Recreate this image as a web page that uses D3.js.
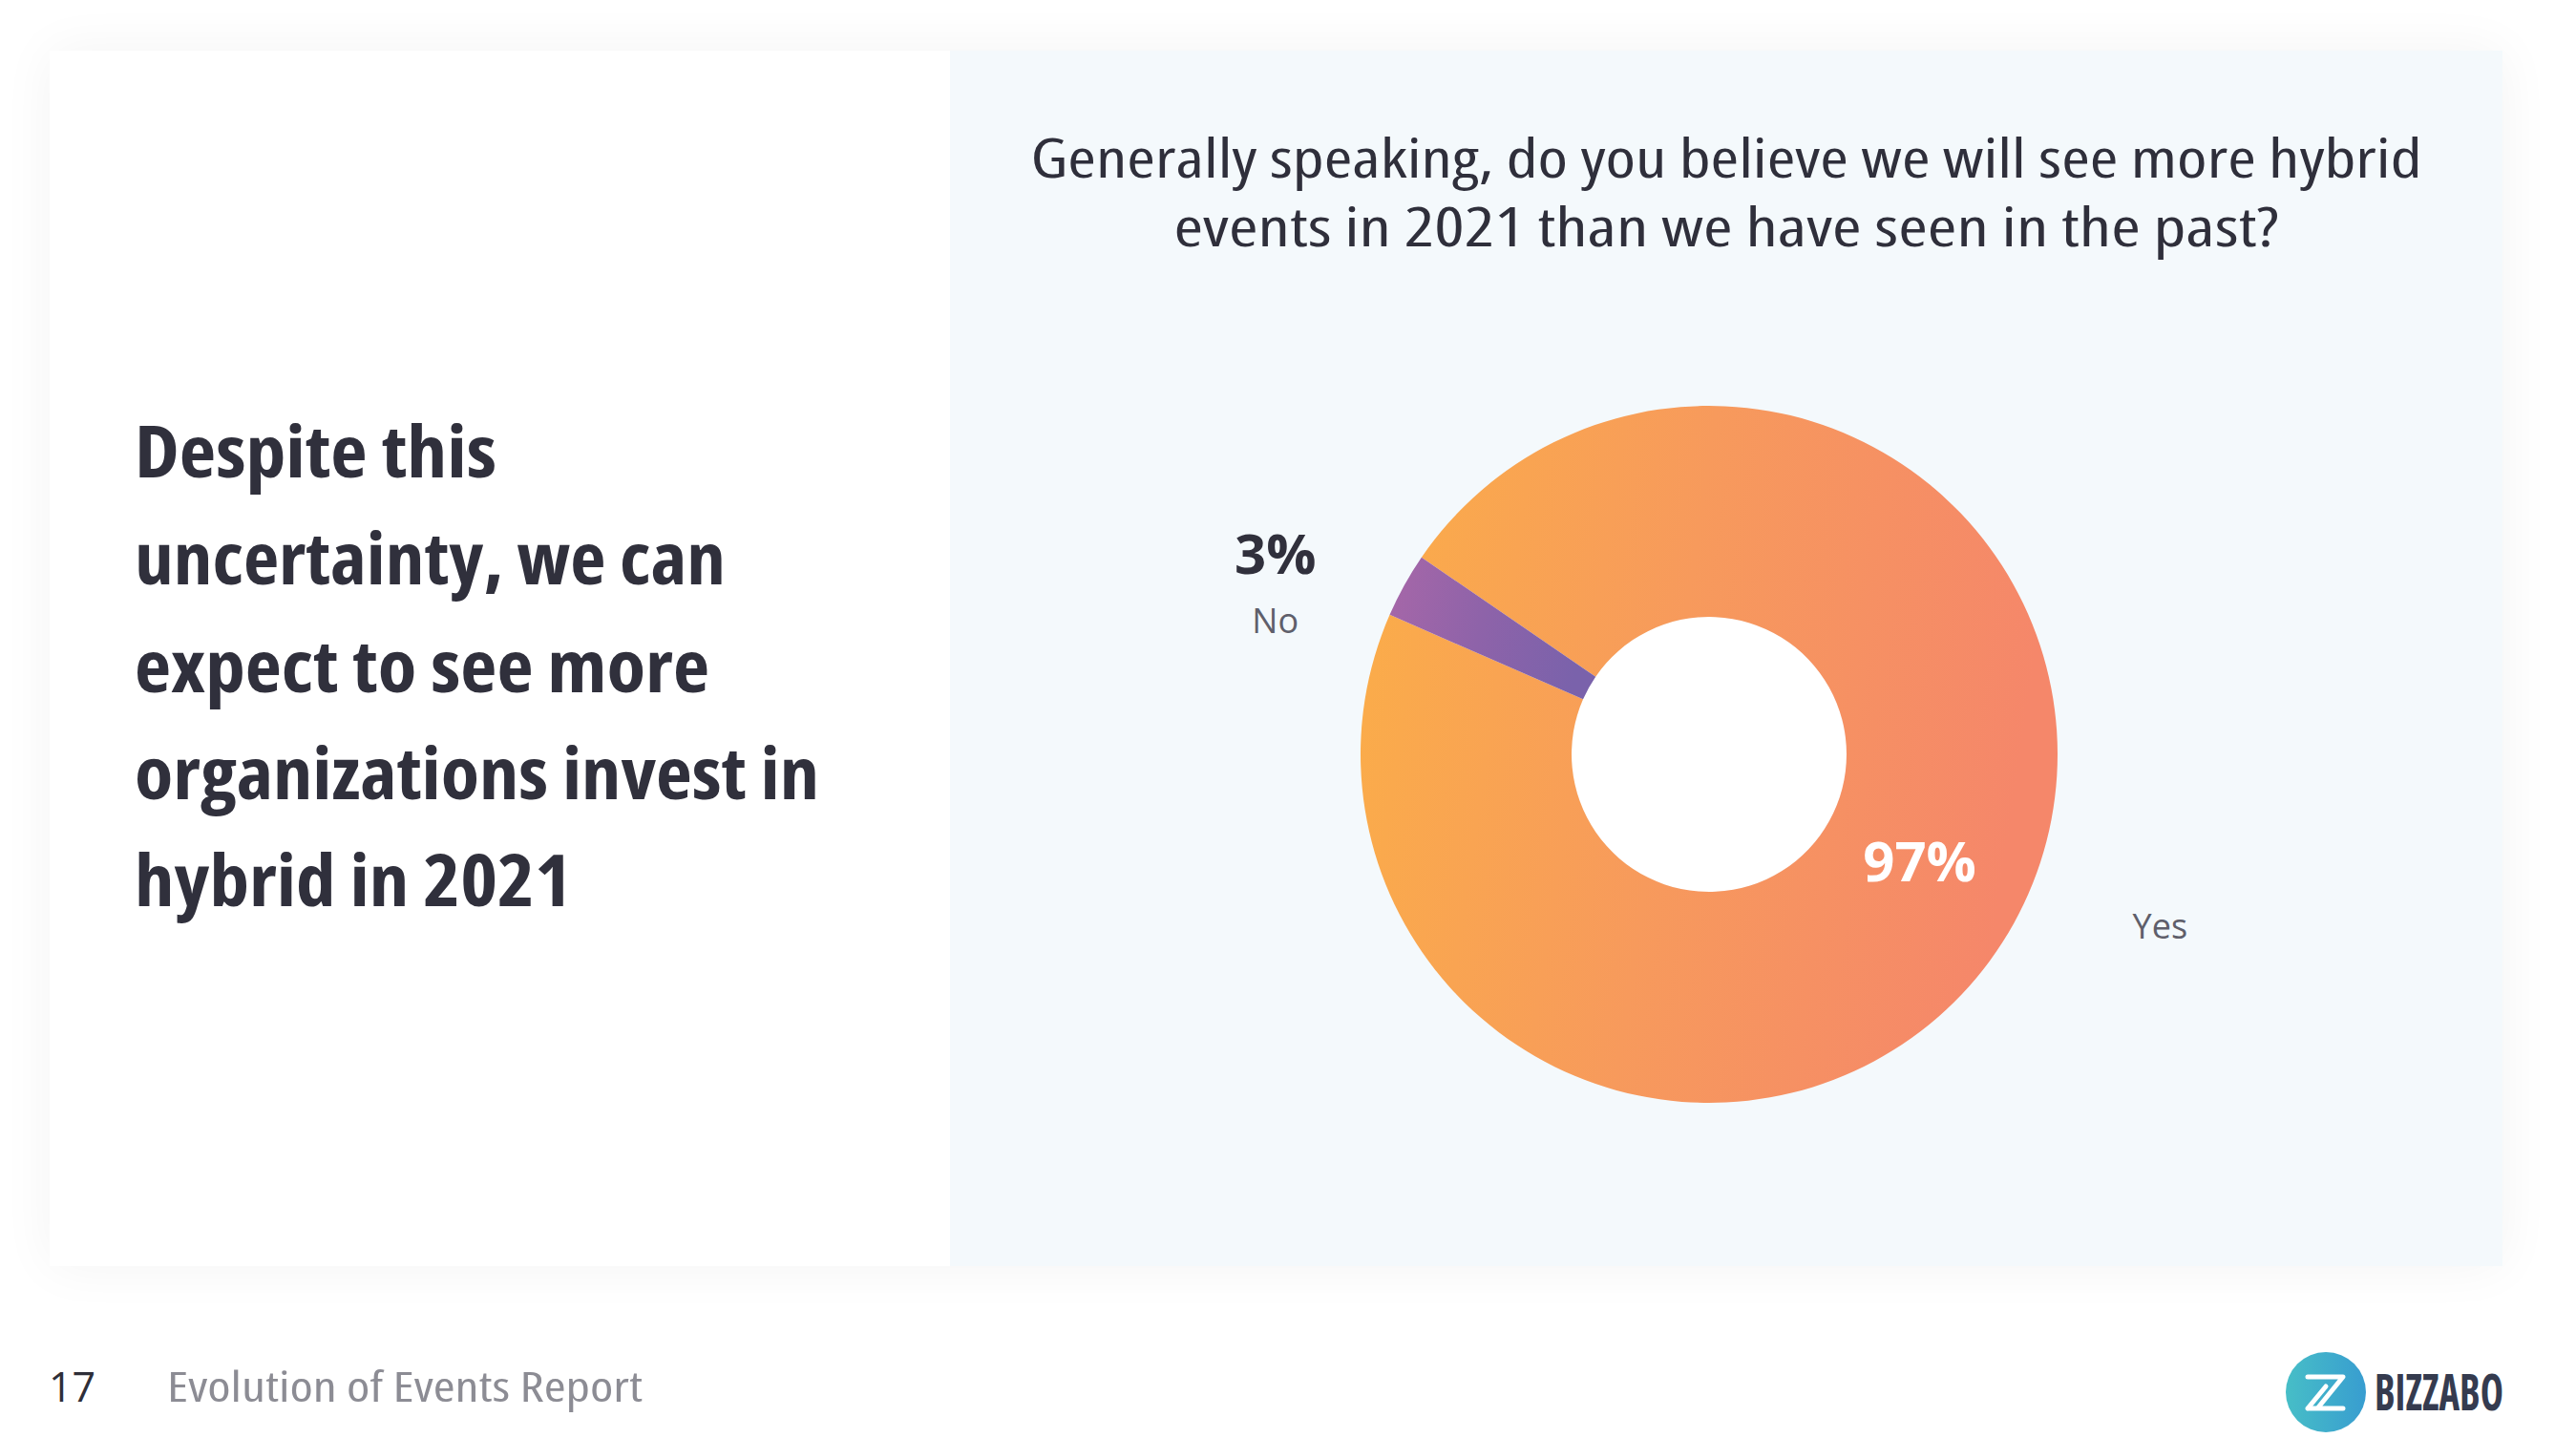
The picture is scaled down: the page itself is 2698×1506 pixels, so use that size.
<!DOCTYPE html>
<html><head><meta charset="utf-8">
<script src="https://cdn.jsdelivr.net/npm/d3@7"></script>
<style>html,body{margin:0;padding:0;background:#fff;}svg{display:block;}</style>
</head><body>
<script>
// ---- data ----
const categories = ["Yes", "No"];
const values = [97, 3];
const percentLabels = ["97%", "3%"];
const titleLines = ["Generally speaking, do you believe we will see more hybrid", "events in 2021 than we have seen in the past?"];
const headlineLines = ["Despite this", "uncertainty, we can", "expect to see more", "organizations invest in", "hybrid in 2021"];
const headlineWidths = [379, 619, 602, 717, 458];
const pageNumber = "17";
const footerText = "Evolution of Events Report";
const brandName = "BIZZABO";

// ---- layout ----
const W = 2698, H = 1506;
const FONT = "'Open Sans', 'Noto Sans', sans-serif";
const svg = d3.select("body").append("svg").attr("width", W).attr("height", H);
const defs = svg.append("defs");

const shadow = defs.append("filter").attr("id", "shadow").attr("x", "-10%").attr("y", "-10%").attr("width", "120%").attr("height", "120%");
shadow.append("feGaussianBlur").attr("in", "SourceAlpha").attr("stdDeviation", 28);
shadow.append("feComponentTransfer").append("feFuncA").attr("type", "linear").attr("slope", 0.05);
const fm = shadow.append("feMerge");
fm.append("feMergeNode");
fm.append("feMergeNode").attr("in", "SourceGraphic");

// card
svg.append("rect").attr("x", 52).attr("y", 53).attr("width", 2569).attr("height", 1273).attr("fill", "#fff").attr("filter", "url(#shadow)");
// right light panel
svg.append("rect").attr("x", 995).attr("y", 53).attr("width", 1626).attr("height", 1273).attr("fill", "#F4F9FC");

// headline
const hl = svg.append("g").attr("font-family", FONT).attr("font-weight", 700).attr("font-size", 76).attr("fill", "#30303C").style("font-stretch", "condensed");
headlineLines.forEach((t, i) => {
  hl.append("text").attr("x", 141).attr("y", 500 + i * 112.3).attr("textLength", headlineWidths[i]).attr("lengthAdjust", "spacingAndGlyphs").text(t);
});

// title
const tg = svg.append("g").attr("font-family", FONT).attr("font-size", 56).attr("fill", "#2F2F3B").attr("text-anchor", "middle").style("font-stretch", "condensed");
const titleWidths = [1457, 1157];
titleLines.forEach((t, i) => {
  tg.append("text").attr("x", 1808).attr("y", 186 + i * 72).attr("textLength", titleWidths[i]).attr("lengthAdjust", "spacingAndGlyphs").text(t);
});

// donut
const cx = 1790, cy = 790, rOuter = 365, rInner = 144;
const start = -55.6 * Math.PI / 180;
const pie = d3.pie().sort(null).value(d => d).startAngle(start).endAngle(start + 2 * Math.PI);
const arcs = pie(values);
const arc = d3.arc().innerRadius(rInner).outerRadius(rOuter);
const gradStops = [["#FBAE48", "#F79A5C", "#F5876A"], ["#A767A8", "#8E63A9", "#7A62AB"]];
gradStops.forEach((s, i) => {
  const g = defs.append("linearGradient").attr("id", "g" + i).attr("x1", 0).attr("y1", 0).attr("x2", 1).attr("y2", 0.15);
  s.forEach((c, j) => g.append("stop").attr("offset", j / (s.length - 1)).attr("stop-color", c));
});
const dg = svg.append("g").attr("transform", `translate(${cx},${cy})`);
dg.append("circle").attr("r", rInner).attr("fill", "#fff");
dg.selectAll("path").data(arcs).join("path").attr("d", arc).attr("fill", (d, i) => `url(#g${i})`);

// labels
const labelR = 490, shift = -10 * Math.PI / 180;
arcs.forEach((d, i) => {
  const mid = (d.startAngle + d.endAngle) / 2 + shift;
  const lx = labelR * Math.sin(mid) + 9, ly = -labelR * Math.cos(mid) + 20;
  dg.append("text").attr("x", lx).attr("y", ly + 13).attr("text-anchor", "middle")
    .attr("font-family", FONT).attr("font-size", 36).attr("fill", "#5F5F6B").text(categories[i]);
  const big = (d.endAngle - d.startAngle) > 0.5;
  if (big) {
    const c = arc.centroid(d);
    dg.append("text").attr("x", c[0] - 2).attr("y", c[1] + 10).attr("text-anchor", "middle")
      .attr("font-family", FONT).attr("font-weight", 700).attr("font-size", 58).attr("fill", "#fff").text(percentLabels[i]);
  } else {
    dg.append("text").attr("x", lx).attr("y", ly - 49).attr("text-anchor", "middle")
      .attr("font-family", FONT).attr("font-weight", 700).attr("font-size", 58).attr("fill", "#30303C").text(percentLabels[i]);
  }
});

// footer
svg.append("text").attr("x", 51).attr("y", 1468).attr("font-family", FONT).attr("font-size", 43).attr("fill", "#2E2E38").text(pageNumber);
svg.append("text").attr("x", 175).attr("y", 1468).attr("font-family", FONT).attr("font-size", 43).attr("fill", "#8C8C94")
  .attr("textLength", 498).attr("lengthAdjust", "spacingAndGlyphs").style("font-stretch", "condensed").text(footerText);

// logo
const lg = defs.append("linearGradient").attr("id", "logoG").attr("x1", 0).attr("y1", 0).attr("x2", 1).attr("y2", 0);
lg.append("stop").attr("offset", 0).attr("stop-color", "#47BEC7");
lg.append("stop").attr("offset", 1).attr("stop-color", "#389DD0");
const logo = svg.append("g").attr("transform", "translate(2436,1458)");
logo.append("circle").attr("r", 42).attr("fill", "url(#logoG)");
logo.append("path").attr("d", "M-19,-16 L18,-16 L-8,16 M-19,17 L18,17 M-19,17 L0,-6").attr("fill", "none").attr("stroke", "#fff").attr("stroke-width", 5).attr("stroke-linecap", "round").attr("stroke-linejoin", "round");
svg.append("text").attr("x", 2487).attr("y", 1477).attr("font-family", FONT).attr("font-weight", 700).attr("font-size", 54).attr("fill", "#353B4F")
  .attr("textLength", 135).attr("lengthAdjust", "spacingAndGlyphs").style("font-stretch", "condensed").text(brandName);
</script>
</body></html>
